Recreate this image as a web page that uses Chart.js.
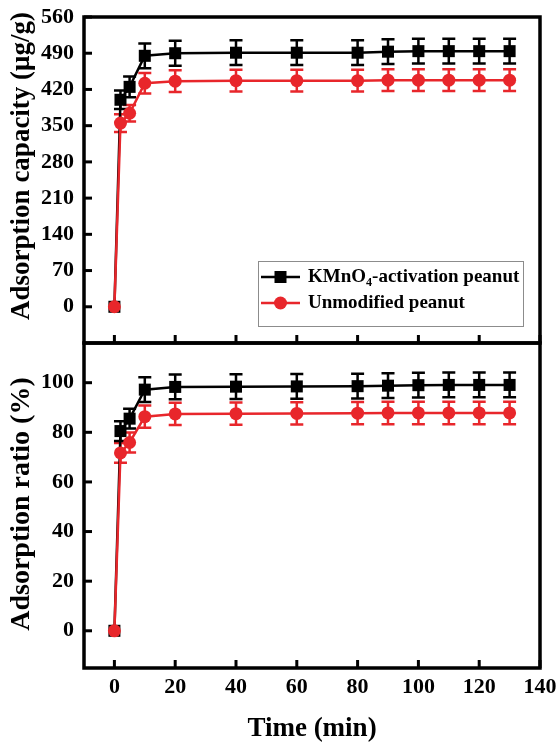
<!DOCTYPE html>
<html>
<head>
<meta charset="utf-8">
<script src="https://cdn.jsdelivr.net/npm/chart.js@4.4.0/dist/chart.umd.min.js"></script>
<style>
  body { margin: 0; background: #fff; }
  #wrap { position: relative; width: 557px; height: 742px; }
  canvas { position: absolute; left: 0; }
</style>
</head>
<body>
<div id="wrap">
  <canvas id="topChart" width="557" height="345" style="top:0px"></canvas>
  <canvas id="botChart" width="557" height="401" style="top:341px"></canvas>
</div>
<script>
// data
var times = [0, 2, 5, 10, 20, 40, 60, 80, 90, 100, 110, 120, 130];

var capKMnO4    = [0, 400, 425, 485, 490, 491, 491, 491, 493, 494, 494, 494, 494];
var capKMnO4Err = [0, 18, 20, 24, 24, 24, 24, 24, 24, 24, 24, 24, 24];
var capUnmod    = [0, 355, 374, 432, 436, 437, 437, 437, 438, 438, 438, 438, 438];
var capUnmodErr = [0, 17, 16, 20, 21, 21, 21, 21, 21, 21, 21, 21, 21];

var ratioKMnO4    = [0, 80.5, 85.5, 97.2, 98.3, 98.4, 98.5, 98.6, 98.8, 99.0, 99.1, 99.1, 99.1];
var ratioKMnO4Err = [0, 4, 4, 5, 5, 5, 5, 5, 5, 5, 5, 5, 5];
var ratioUnmod    = [0, 71.7, 75.9, 86.3, 87.4, 87.5, 87.6, 87.7, 87.8, 87.8, 87.8, 87.8, 87.8];
var ratioUnmodErr = [0, 4, 4, 4.5, 4.5, 4.5, 4.5, 4.5, 4.5, 4.5, 4.5, 4.5, 4.5];

var capTicks   = [0, 70, 140, 210, 280, 350, 420, 490, 560];
var ratioTicks = [0, 20, 40, 60, 80, 100];
var timeTicks  = [0, 20, 40, 60, 80, 100, 120, 140];

var BLACK = '#000000';
var RED = '#e8262b';
var FAMILY = "'Liberation Serif', 'Times New Roman', serif";

function points(ys) {
  var out = [];
  for (var i = 0; i < times.length; i++) out.push({ x: times[i], y: ys[i] });
  return out;
}

function keepTicks(list) {
  return function (scale) {
    scale.ticks = list.map(function (v) { return { value: v }; });
  };
}

// error bars drawn from the same scales
var errorBars = {
  id: 'errorBars',
  beforeDatasetsDraw: function (chart) {
    var ctx = chart.ctx;
    var xs = chart.scales.x, ys = chart.scales.y;
    var sets = chart.data.datasets.slice().reverse();
    sets.forEach(function (ds) {
      ctx.save();
      ctx.strokeStyle = ds.borderColor;
      ctx.lineWidth = 2.5;
      ds.data.forEach(function (p, j) {
        var e = ds.errors[j];
        if (!e) return;
        var x = xs.getPixelForValue(p.x);
        var y1 = ys.getPixelForValue(p.y - e);
        var y2 = ys.getPixelForValue(p.y + e);
        ctx.beginPath();
        ctx.moveTo(x, y1); ctx.lineTo(x, y2);
        ctx.moveTo(x - 6.5, y1); ctx.lineTo(x + 6.5, y1);
        ctx.moveTo(x - 6.5, y2); ctx.lineTo(x + 6.5, y2);
        ctx.stroke();
      });
      ctx.restore();
    });
  }
};

// thick frame with inward ticks
var frame = {
  id: 'frame',
  afterDraw: function (chart) {
    var ctx = chart.ctx;
    var a = chart.chartArea;
    var xs = chart.scales.x, ys = chart.scales.y;
    ctx.save();
    ctx.strokeStyle = BLACK;
    ctx.lineWidth = 3;
    ys.ticks.forEach(function (t) {
      var y = ys.getPixelForValue(t.value);
      ctx.beginPath(); ctx.moveTo(a.left, y); ctx.lineTo(a.left + 8, y); ctx.stroke();
    });
    timeTicks.forEach(function (v) {
      var x = xs.getPixelForValue(v);
      ctx.beginPath(); ctx.moveTo(x, a.bottom); ctx.lineTo(x, a.bottom - 8); ctx.stroke();
    });
    ctx.lineWidth = 3.5;
    ctx.strokeRect(a.left, a.top, a.right - a.left, a.bottom - a.top);

    // rotated y-axis title
    var t = chart.options.yTitle;
    ctx.translate(22, t.y);
    ctx.rotate(-Math.PI / 2);
    ctx.fillStyle = BLACK;
    ctx.font = 'bold ' + t.size + 'px ' + FAMILY;
    ctx.textAlign = 'center';
    ctx.textBaseline = 'middle';
    ctx.fillText(t.text, 0, 0);
    ctx.restore();
  }
};

var legendBox = {
  id: 'legendBox',
  afterDraw: function (chart) {
    var ctx = chart.ctx;
    ctx.save();
    ctx.strokeStyle = '#8c8c8c';
    ctx.lineWidth = 1;
    ctx.strokeRect(258.5, 261.5, 265, 65);

    var rows = [
      { y: 277, color: BLACK, shape: 'rect' },
      { y: 303, color: RED, shape: 'circle' }
    ];
    rows.forEach(function (r) {
      ctx.strokeStyle = r.color;
      ctx.fillStyle = r.color;
      ctx.lineWidth = 2.5;
      ctx.beginPath(); ctx.moveTo(261, r.y); ctx.lineTo(300, r.y); ctx.stroke();
      ctx.beginPath();
      if (r.shape === 'rect') ctx.rect(274.5, r.y - 6, 12, 12);
      else ctx.arc(280.5, r.y, 6.5, 0, Math.PI * 2);
      ctx.fill();
    });

    ctx.fillStyle = BLACK;
    ctx.textBaseline = 'middle';
    ctx.font = 'bold 19px ' + FAMILY;
    var x = 308;
    ctx.fillText('KMnO', x, 277);
    x += ctx.measureText('KMnO').width;
    ctx.font = 'bold 12px ' + FAMILY;
    ctx.fillText('4', x, 283);
    x += ctx.measureText('4').width;
    ctx.font = 'bold 19px ' + FAMILY;
    ctx.fillText('-activation peanut', x, 277);
    ctx.fillText('Unmodified peanut', 308, 303);
    ctx.restore();
  }
};

function datasets(black, blackErr, red, redErr) {
  return [
    {
      label: 'KMnO4-activation peanut',
      data: points(black), errors: blackErr,
      borderColor: BLACK, backgroundColor: BLACK,
      borderWidth: 2.5, pointStyle: 'rect', pointRadius: 8.5,
      pointBorderWidth: 0, order: 1
    },
    {
      label: 'Unmodified peanut',
      data: points(red), errors: redErr,
      borderColor: RED, backgroundColor: RED,
      borderWidth: 2.5, pointStyle: 'circle', pointRadius: 6.5,
      pointBorderWidth: 0, order: 0
    }
  ];
}

function yScale(min, max, tickList) {
  return {
    type: 'linear', min: min, max: max,
    afterBuildTicks: keepTicks(tickList),
    afterFit: function (s) { s.width = 84; s.paddingTop = 0; s.paddingBottom = 0; },
    grid: { display: false, drawTicks: false },
    border: { display: false },
    ticks: { color: BLACK, padding: 10, font: { family: FAMILY, size: 22, weight: 'bold' } }
  };
}

Chart.defaults.animation = false;

new Chart(document.getElementById('topChart'), {
  type: 'line',
  data: { datasets: datasets(capKMnO4, capKMnO4Err, capUnmod, capUnmodErr) },
  options: {
    responsive: false,
    devicePixelRatio: 1,
    yTitle: { text: 'Adsorption capacity (μg/g)', y: 166, size: 27 },
    layout: { autoPadding: false, padding: { left: 0, top: 17, right: 17, bottom: 2 } },
    plugins: { legend: { display: false }, tooltip: { enabled: false } },
    scales: {
      x: { type: 'linear', min: -10, max: 140, display: false },
      y: yScale(-70, 560, capTicks)
    }
  },
  plugins: [errorBars, frame, legendBox]
});

new Chart(document.getElementById('botChart'), {
  type: 'line',
  data: { datasets: datasets(ratioKMnO4, ratioKMnO4Err, ratioUnmod, ratioUnmodErr) },
  options: {
    responsive: false,
    devicePixelRatio: 1,
    yTitle: { text: 'Adsorption ratio (%)', y: 163, size: 28 },
    layout: { autoPadding: false, padding: { left: 0, top: 2, right: 17, bottom: 0 } },
    plugins: { legend: { display: false }, tooltip: { enabled: false } },
    scales: {
      x: {
        type: 'linear', min: -10, max: 140,
        afterBuildTicks: keepTicks(timeTicks),
        afterFit: function (s) { s.height = 74; s.paddingLeft = 0; s.paddingRight = 0; },
        grid: { display: false, drawTicks: false },
        border: { display: false },
        ticks: { color: BLACK, padding: 6, maxRotation: 0, font: { family: FAMILY, size: 22, weight: 'bold' } },
        title: {
          display: true, text: 'Time (min)', color: BLACK,
          padding: { top: 0, bottom: -3 },
          font: { family: FAMILY, size: 27, weight: 'bold' }
        }
      },
      y: yScale(-15, 116, ratioTicks)
    }
  },
  plugins: [errorBars, frame]
});
</script>
</body>
</html>
